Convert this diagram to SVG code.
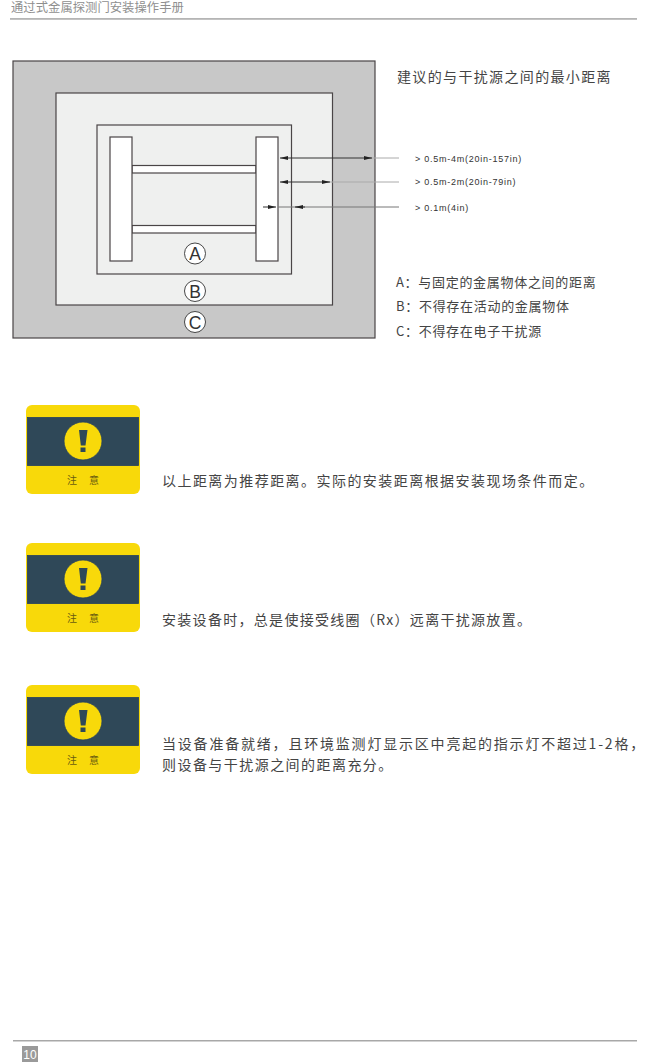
<svg xmlns="http://www.w3.org/2000/svg" width="650" height="1062" viewBox="0 0 650 1062">
<style>
text{font-family:"Liberation Sans","Noto Sans CJK SC",sans-serif;fill:#4a4a4a}
.cn{font-family:"Noto Sans CJK SC",sans-serif;font-size:14px;letter-spacing:1.450px;font-weight:400;fill:#444}
.dim{font-size:9px;letter-spacing:.75px;fill:#333}
.box{stroke:#4a4547;stroke-width:1.2}
.zone{fill:#eff0ef}
.bar{fill:#fff}
.circ{fill:#fff;stroke:#333;stroke-width:.9}
.letter{font-size:17.500px;text-anchor:middle;fill:#333}
.dk{stroke:#333;stroke-width:1}
.lt{stroke:#aaa;stroke-width:1}
.md{stroke:#777;stroke-width:1}
.y{fill:#f8d90a}
.n{fill:#2f4858;stroke:#24405f;stroke-width:.8}
.zy{font-family:"Noto Sans CJK SC",sans-serif;font-size:10px;fill:#6b5c10}
</style>
<defs>
<marker id="ah" viewBox="0 0 8 4" refX="8" refY="2" markerWidth="8" markerHeight="4" markerUnits="userSpaceOnUse" orient="auto-start-reverse"><path d="M0 0L8 2L0 4Z" fill="#222"/></marker>
<g id="warn">
<rect x="26" y="405" width="114" height="89" rx="6" class="y"/>
<rect x="27.500" y="417.500" width="111" height="48" class="n"/>
<circle cx="83" cy="441" r="19" class="y" stroke="#24405f" stroke-width=".8"/>
<path d="M79 430H87.500L85.500 445.500H80.800Z M80.500 447.500H85.500V452H80.500Z" fill="#2f4858"/>
<text x="67" y="484" class="zy">注</text>
<text x="89" y="484" class="zy">意</text>
</g>
</defs>
<rect width="650" height="1062" fill="#fff"/>
<g id="header">
<text x="11" y="12" class="cn" style="font-size:12.300px;letter-spacing:.05px;fill:#8f8f8f">通过式金属探测门安装操作手册</text>
<rect x="10" y="18" width="627" height="1.800" fill="#b5b5b5"/>
</g>
<g id="zone-c"><rect x="13" y="61" width="362" height="277" fill="#c8c8c8" class="box"/></g>
<g id="zone-b"><rect x="56" y="93" width="276.500" height="212" class="zone box"/></g>
<g id="zone-a"><rect x="97" y="125" width="194.500" height="149" class="zone box"/></g>
<g id="door">
<rect x="132" y="165.500" width="124" height="7.500" class="bar box"/>
<rect x="132" y="225.500" width="124" height="7.500" class="bar box"/>
<rect x="110" y="137" width="22" height="124" class="bar box"/>
<rect x="256" y="137" width="22" height="124" class="bar box"/>
</g>
<g id="label-a"><circle cx="195" cy="253.500" r="10.500" class="circ"/><text x="195" y="260" class="letter">A</text></g>
<g id="label-b"><circle cx="195" cy="291" r="10.500" class="circ"/><text x="195" y="297.500" class="letter">B</text></g>
<g id="label-c"><circle cx="195" cy="322" r="10.500" class="circ"/><text x="195" y="328.500" class="letter">C</text></g>
<g id="connectors">
<path class="lt" d="M366 158H399M324 182H399"/>
<path class="md" d="M278 207H399"/>
<line x1="280" y1="158" x2="372" y2="158" class="dk" marker-start="url(#ah)" marker-end="url(#ah)"/>
<line x1="280" y1="182" x2="330" y2="182" class="dk" marker-start="url(#ah)" marker-end="url(#ah)"/>
<line x1="263" y1="207" x2="276" y2="207" class="dk" marker-end="url(#ah)"/>
<line x1="305" y1="207" x2="295" y2="207" class="dk" marker-end="url(#ah)"/>
</g>
<g id="dim-1"><text x="415" y="161.500" class="dim">&gt; 0.5m-4m(20in-157in)</text></g>
<g id="dim-2"><text x="415" y="185" class="dim">&gt; 0.5m-2m(20in-79in)</text></g>
<g id="dim-3"><text x="415" y="211" class="dim">&gt; 0.1m(4in)</text></g>
<g id="heading"><text x="397" y="81.500" class="cn" style="letter-spacing:1.350px">建议的与干扰源之间的最小距离</text></g>
<g id="legend">
<text x="396" y="286.500" class="cn" style="font-size:13px;letter-spacing:.7px">A：与固定的金属物体之间的距离</text>
<text x="396" y="311" class="cn" style="font-size:13px;letter-spacing:.7px">B：不得存在活动的金属物体</text>
<text x="396" y="335.500" class="cn" style="font-size:13px;letter-spacing:.7px">C：不得存在电子干扰源</text>
</g>
<g id="warning-1"><use href="#warn"/><text x="162" y="485.500" class="cn">以上距离为推荐距离。实际的安装距离根据安装现场条件而定。</text></g>
<g id="warning-2"><use href="#warn" y="138"/><text x="162" y="625" class="cn" style="letter-spacing:1.300px">安装设备时，总是使接受线圈（Rx）远离干扰源放置。</text></g>
<g id="warning-3"><use href="#warn" y="280"/><text x="162" y="749" class="cn" style="letter-spacing:1.800px">当设备准备就绪，且环境监测灯显示区中亮起的指示灯不超过1-2格，</text><text x="162" y="770" class="cn">则设备与干扰源之间的距离充分。</text></g>
<g id="footer">
<rect x="13" y="1040" width="624" height="1.500" fill="#a8a8a8"/>
<rect x="22" y="1046" width="16" height="16" fill="#9a9a9a"/>
<text x="30" y="1059" text-anchor="middle" style="font-size:12px;fill:#fff">10</text>
</g>
</svg>
